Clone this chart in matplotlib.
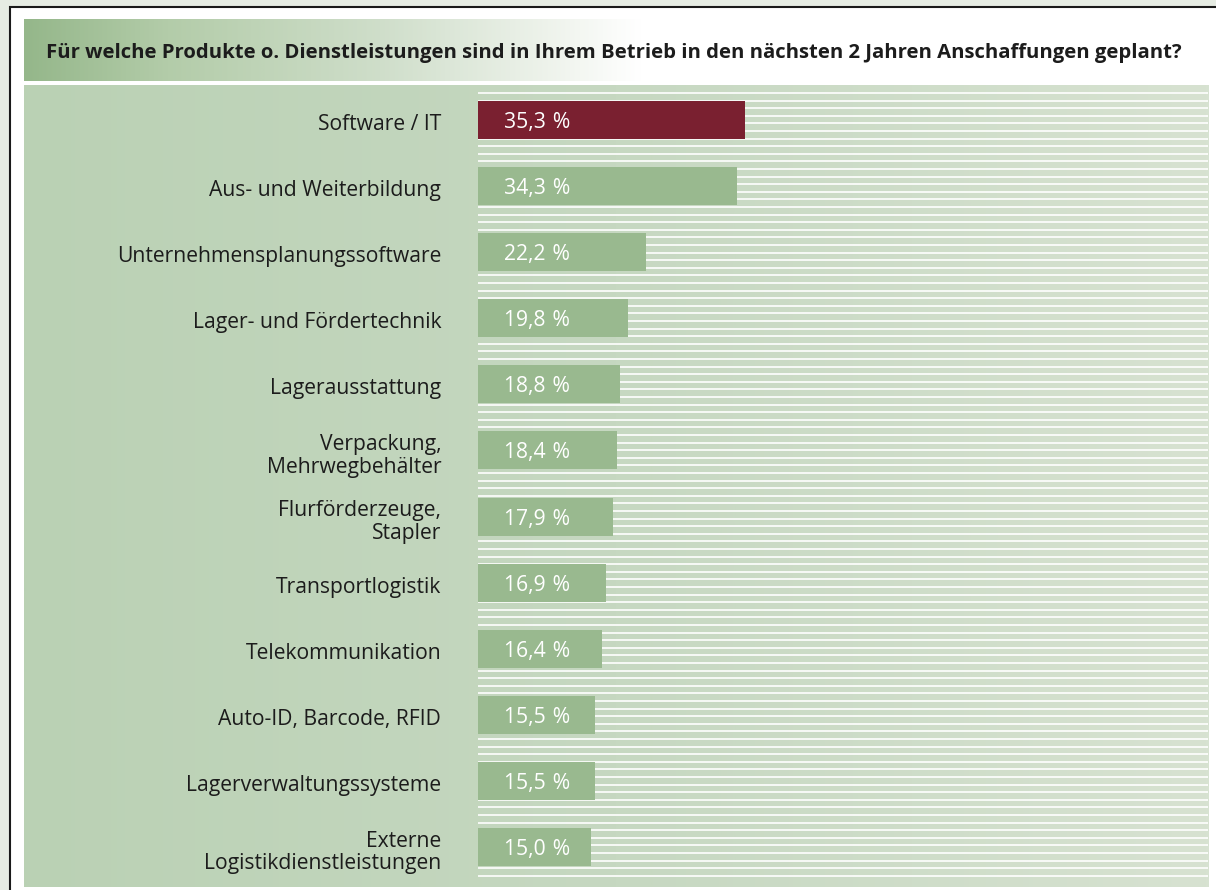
import numpy as np
import matplotlib
matplotlib.use("Agg")
import matplotlib.pyplot as plt
from matplotlib.patches import Rectangle
from matplotlib.colors import LinearSegmentedColormap
import matplotlib.transforms as mtrans

# ---- data ----
categories = [
    "Software / IT",
    "Aus- und Weiterbildung",
    "Unternehmensplanungssoftware",
    "Lager- und Fördertechnik",
    "Lagerausstattung",
    "Verpackung,\nMehrwegbehälter",
    "Flurförderzeuge,\nStapler",
    "Transportlogistik",
    "Telekommunikation",
    "Auto-ID, Barcode, RFID",
    "Lagerverwaltungssysteme",
    "Externe\nLogistikdienstleistungen",
]
values = [35.3, 34.3, 22.2, 19.8, 18.8, 18.4, 17.9, 16.9, 16.4, 15.5, 15.5, 15.0]
highlight = [True] + [False] * 11
title = "Für welche Produkte o. Dienstleistungen sind in Ihrem Betrieb in den nächsten 2 Jahren Anschaffungen geplant?"

FONT = "Open Sans"
W, H = 1216, 890
fig = plt.figure(figsize=(W / 100, H / 100), dpi=100)
fig.patch.set_facecolor("#e6ece3")

# background axes in pixel coordinates
bg = fig.add_axes([0, 0, 1, 1])
bg.set_xlim(0, W)
bg.set_ylim(H, 0)
bg.axis("off")

# white frame with dark border
bg.add_patch(Rectangle((10, 7), W + 20, H + 20, facecolor="white",
                       edgecolor="#1a1a1a", lw=1.5, zorder=0))

# title bar gradient
tcmap = LinearSegmentedColormap.from_list(
    "t", [(0.0, "#95b78a"), (0.12, "#b3cca9"), (0.3, "#cfdeca"),
          (0.47, "#f4f7f2"), (0.52, "#ffffff"), (1.0, "#ffffff")])
grad = np.linspace(0, 1, 512).reshape(1, -1)
bg.imshow(grad, cmap=tcmap, aspect="auto", extent=(24, 1209, 81, 19), zorder=1)
bg.text(614, 53, title, ha="center", va="center", fontsize=14.6,
        fontweight="bold", color="#1c1c1c", family=FONT, zorder=3)

# panel gradient
pcmap = LinearSegmentedColormap.from_list("p", ["#bad1b4", "#c6d8c1", "#d7e2d1"])
bg.imshow(grad, cmap=pcmap, aspect="auto", extent=(24, 1209, 887, 85), zorder=1)

# decorative stripes
ys = np.arange(93, 882, 7.6)
bg.hlines(ys, 478, 1208, color="white", lw=1.4, alpha=0.85, zorder=2)

# bar axes
px_per_pct = 7.564
x0, x1, y0, y1 = 478, 1209, 85, 887
ax = fig.add_axes([x0 / W, 1 - y1 / H, (x1 - x0) / W, (y1 - y0) / H])
ax.set_facecolor("none")
ax.set_xlim(0, (x1 - x0) / px_per_pct)
step = 66.09
ax.set_ylim((y1 - 120) / step, -(120 - y0) / step)
pos = np.arange(len(categories))
colors = ["#7a2030" if h else "#99b98f" for h in highlight]
ax.barh(pos, values, height=38 / step, color=colors, zorder=3)
for s in ax.spines.values():
    s.set_visible(False)
ax.set_xticks([])
ax.set_yticks(pos)
ax.set_yticklabels(categories, fontsize=15.2, family=FONT, color="#1c1c1c",
                   linespacing=1.12)
ax.tick_params(axis="y", length=0, pad=26.5)
shift = mtrans.ScaledTranslation(0, -1.5 / 72, fig.dpi_scale_trans)
for lbl in ax.get_yticklabels():
    lbl.set_horizontalalignment("right")
    lbl.set_transform(lbl.get_transform() + shift)

off = mtrans.offset_copy(ax.transData, fig=fig, x=18.7, y=-1.8, units="points")
for i, v in enumerate(values):
    ax.text(0, i, f"{v:.1f}\u2009\u2009%".replace(".", ","), transform=off, ha="left",
            va="center", color="white", fontsize=15.2, family=FONT, zorder=4)

fig.savefig("out.png", dpi=100, facecolor=fig.get_facecolor())
